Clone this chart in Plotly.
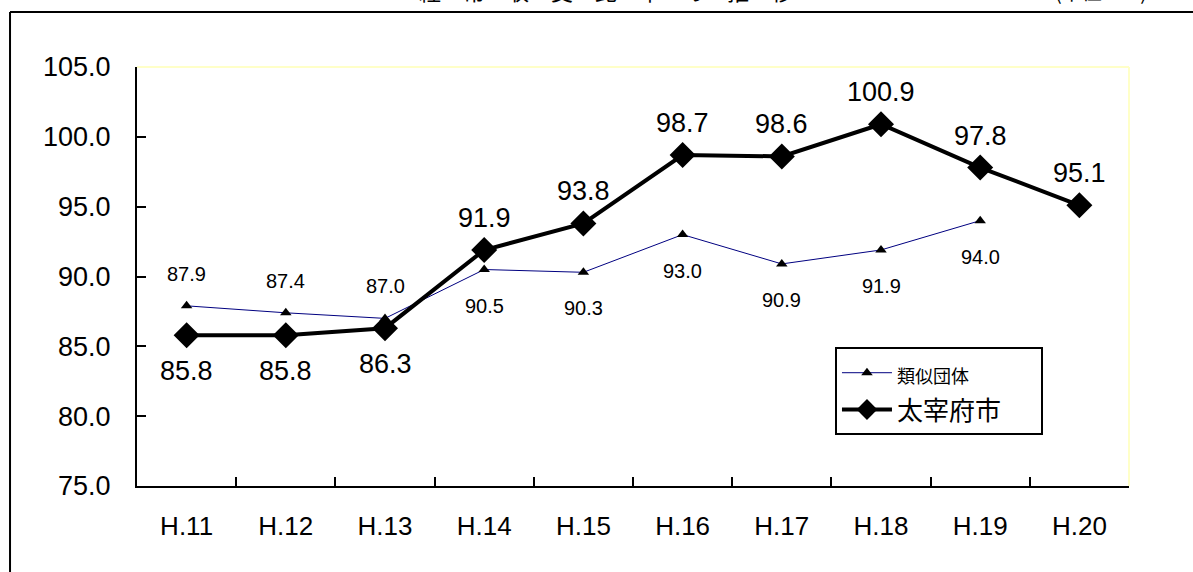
import plotly.graph_objects as go

categories = ["H.11", "H.12", "H.13", "H.14", "H.15", "H.16", "H.17", "H.18", "H.19", "H.20"]
similar_values = [87.9, 87.4, 87.0, 90.5, 90.3, 93.0, 90.9, 91.9, 94.0, None]
dazaifu_values = [85.8, 85.8, 86.3, 91.9, 93.8, 98.7, 98.6, 100.9, 97.8, 95.1]
y_ticks = [75.0, 80.0, 85.0, 90.0, 95.0, 100.0, 105.0]

title_text = "経　常　収　支　比　率　の　推　移"
unit_text = "(単位：%)"

NUM_FONT = "Liberation Sans, Arial, Noto Sans CJK JP, sans-serif"
JP_FONT = "Noto Sans CJK JP, Liberation Sans, sans-serif"
PAD = "\u00a0" * 6

fig = go.Figure()

fig.add_trace(go.Scatter(
    x=categories, y=similar_values, mode="lines+markers",
    name="<span style='font-size:18px'>類似団体</span>" + PAD,
    legendgroup="similar",
    line=dict(color="#000080", width=1),
    marker=dict(symbol="triangle-up", size=10, color="black"),
    cliponaxis=False,
))
fig.add_trace(go.Scatter(
    x=categories, y=dazaifu_values, mode="lines+markers",
    name="太宰府市" + PAD,
    legendgroup="dazaifu",
    line=dict(color="black", width=4),
    marker=dict(symbol="diamond", size=20, color="black"),
    cliponaxis=False,
))

annotations = []
for i, (c, v) in enumerate(zip(categories, similar_values)):
    if v is None:
        continue
    above = i < 3
    annotations.append(dict(
        x=c, y=v, xref="x", yref="y", text=f"{v:.1f}", showarrow=False,
        yshift=32 if above else -36,
        font=dict(family=NUM_FONT, size=20, color="black"),
    ))
for i, (c, v) in enumerate(zip(categories, dazaifu_values)):
    below = i < 3
    annotations.append(dict(
        x=c, y=v, xref="x", yref="y", text=f"{v:.1f}", showarrow=False,
        yshift=-36 if below else 32,
        font=dict(family=NUM_FONT, size=27, color="black"),
    ))

annotations.append(dict(
    x=0.4725, y=1.1408, xref="paper", yref="paper", xanchor="center", yanchor="bottom",
    text=title_text, showarrow=False,
    font=dict(family=JP_FONT, size=22, color="black"),
))
annotations.append(dict(
    x=0.9718, y=1.1408, xref="paper", yref="paper", xanchor="center", yanchor="bottom",
    text=unit_text, showarrow=False,
    font=dict(family=JP_FONT, size=20, color="black"),
))

shapes = [
    # outer frame (top and left edges visible)
    dict(type="line", xref="paper", yref="paper", x0=-0.128, x1=1.2, y0=1.1313, y1=1.1313,
         line=dict(color="black", width=2)),
    dict(type="line", xref="paper", yref="paper", x0=-0.128, x1=-0.128, y0=1.1313, y1=-0.3,
         line=dict(color="black", width=2)),
    # faint plot-area border
    dict(type="line", xref="paper", yref="paper", x0=0, x1=1, y0=1, y1=1,
         line=dict(color="#ffffc8", width=2), layer="below"),
    dict(type="line", xref="paper", yref="paper", x0=1, x1=1, y0=0, y1=1,
         line=dict(color="#ffffc8", width=2), layer="below"),
]

fig.update_layout(
    width=1193, height=572,
    margin=dict(l=137, r=64, t=67, b=86),
    paper_bgcolor="white", plot_bgcolor="white",
    showlegend=True,
    legend=dict(
        x=0.7036, y=0.331, xanchor="left", yanchor="top",
        bordercolor="black", borderwidth=2, bgcolor="white",
        font=dict(family=JP_FONT, size=26, color="black"),
        tracegroupgap=0, itemwidth=50,
    ),
    annotations=annotations,
    shapes=shapes,
)

fig.update_xaxes(
    type="category", categoryorder="array", categoryarray=categories,
    range=[-0.5, len(categories) - 0.5],
    tickson="boundaries", ticks="inside", ticklen=9, tickwidth=2, tickcolor="black",
    showline=True, linecolor="black", linewidth=2, showgrid=False, zeroline=False,
    tickfont=dict(family=NUM_FONT, size=26, color="black"),
    ticklabelstandoff=16,
)
fig.update_yaxes(
    range=[75, 105], tickmode="array", tickvals=y_ticks,
    ticktext=[f"{t:.1f}" for t in y_ticks],
    ticks="inside", ticklen=9, tickwidth=2, tickcolor="black",
    showline=True, linecolor="black", linewidth=2, showgrid=False, zeroline=False,
    tickfont=dict(family=NUM_FONT, size=27, color="black"),
    ticklabelstandoff=19,
)

fig.write_html(
    "out.html",
    config={"displayModeBar": False, "displaylogo": False},
    post_script="document.body.style.margin='0';",
)
